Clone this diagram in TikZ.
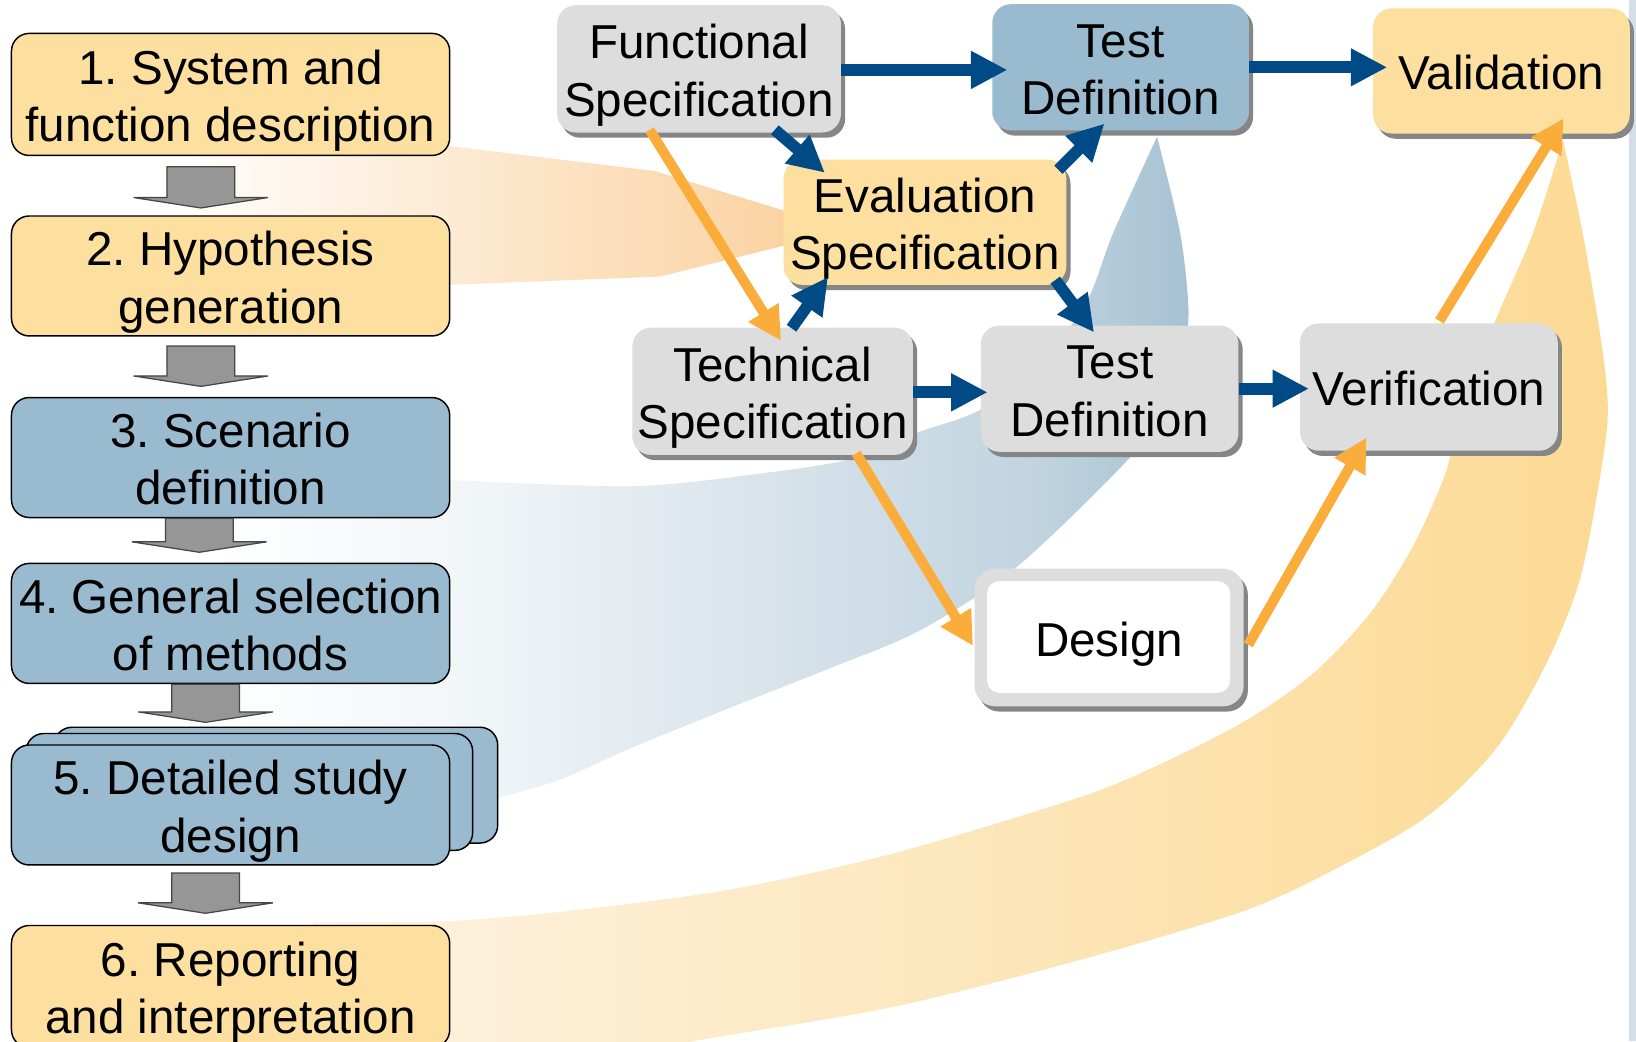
\documentclass[tikz,border=0pt]{standalone}
\usepackage{fontspec}
\setmainfont{Liberation Sans}
\usetikzlibrary{arrows.meta,calc,shadows}
\frenchspacing
\definecolor{boxorange}{RGB}{253,223,160}
\definecolor{boxblue}{RGB}{154,187,207}
\definecolor{boxgray}{RGB}{221,221,221}
\definecolor{shadowgray}{RGB}{134,134,134}
\definecolor{arrblue}{RGB}{0,74,134}
\definecolor{arrorange}{RGB}{251,173,59}
\definecolor{blockgray}{RGB}{150,150,150}
\definecolor{blockedge}{RGB}{70,70,70}
\definecolor{stripcol}{RGB}{212,222,230}
\definecolor{bfA}{RGB}{243,247,249}
\definecolor{bfB}{RGB}{219,229,236}
\definecolor{bfC}{RGB}{193,212,224}
\definecolor{bfD}{RGB}{166,194,211}
\definecolor{rfL}{RGB}{253,243,227}
\definecolor{rfR}{RGB}{252,218,148}
\definecolor{ofR}{RGB}{250,210,160}
\pgfdeclarehorizontalshading{bluefade}{100bp}{color(0bp)=(white); color(25bp)=(white); color(37bp)=(bfA); color(52bp)=(bfB); color(67bp)=(bfC); color(75bp)=(bfD); color(100bp)=(bfD)}
\newcommand{\ts}{\rule{0pt}{22.7pt}}
\newcommand{\bs}{\rule[-4.8pt]{0pt}{0pt}}
\tikzset{
  txt/.style={font=\fontsize{22.8pt}{27.5pt}\selectfont, align=center, inner sep=0pt},
  lbox/.style={txt, draw=black, line width=0.7pt, rounded corners=8.5pt, minimum width=210pt, minimum height=57.5pt},
  lorange/.style={lbox, fill=boxorange},
  lblue/.style={lbox, fill=boxblue},
  rbox/.style={txt, rounded corners=9pt, drop shadow={shadow xshift=2pt, shadow yshift=-2.5pt, fill=shadowgray, opacity=1}},
  rgray/.style={rbox, fill=boxgray},
  rblue/.style={rbox, fill=boxblue},
  rorange/.style={rbox, fill=boxorange},
  desbox/.style={txt, rounded corners=10pt, fill=boxgray, minimum width=129pt, minimum height=66pt,
    drop shadow={shadow xshift=2pt, shadow yshift=-2.5pt, fill=shadowgray, opacity=1},
    path picture={\fill[white, rounded corners=6pt] ([shift={(6pt,-6pt)}]path picture bounding box.north west) rectangle ([shift={(-6.5pt,6.5pt)}]path picture bounding box.south east);}},
  barrow/.style={draw=arrblue, line width=5.6pt, -{Triangle[length=17.5pt,width=17pt]}},
  oarrow/.style={draw=arrorange, line width=4.8pt, -{Triangle[length=16pt,width=16pt]}},
  blockarrow/.style={fill=blockgray, draw=blockedge, line width=0.6pt},
}
% block arrow between two stacked boxes: from, to, left offset (pt), top gap (pt), tip gap (pt)
\newcommand{\garrow}[5]{%
  \draw[blockarrow] let \p1=(#1.south), \p2=(#2.north) in
  ({\x1-#3pt-16.25pt},{\y1-#4pt}) -- ({\x1-#3pt+16.25pt},{\y1-#4pt}) --
  ({\x1-#3pt+16.25pt},{\y2+#5pt+5pt}) -- ({\x1-#3pt+32.25pt},{\y2+#5pt+5pt}) --
  ({\x1-#3pt},{\y2+#5pt}) -- ({\x1-#3pt-32.25pt},{\y2+#5pt+5pt}) --
  ({\x1-#3pt-16.25pt},{\y2+#5pt+5pt}) -- cycle;}
\begin{document}
\begin{tikzpicture}[x=0.5pt,y=-0.5pt]
\useasboundingbox (0,0) rectangle (1568,998);
\clip (0,0) rectangle (1568,998);
\fill[white] (0,0) rectangle (1568,998);
\fill[stripcol] (1561,0) rectangle (1568,998);
% orange band to evaluation specification
\shade[left color=white, right color=ofR] (150,135) -- (431,140) -- (628,164) -- (765,206) -- (765,232) -- (633,265) -- (431,273) -- (150,276) -- cycle;
% blue band
\shade[shading=bluefade] (200,457) -- plot[smooth, tension=0.5] coordinates {(431,460) (607,466) (735,453) (815,440) (875,416) (941,392) (1000,345) (1042,288) (1067,223) (1109,131)}
  -- plot[smooth, tension=0.5] coordinates {(1109,131) (1131,223) (1139,294) (1135,330) (1115,385) (1088,433) (975,543) (882,604) (799,639) (703,677) (607,716) (537,747) (479,764) (431,772)}
  -- (200,780) -- cycle;
% orange ring
\shade[left color=rfL, right color=rfR] (300,884) -- plot[smooth, tension=0.5] coordinates {(431,883) (537,874) (697,853) (856,818) (1035,764) (1115,731) (1195,690) (1259,645) (1313,588) (1354,524) (1383,460) (1398,410) (1428,320) (1469,224) (1498,134)}
  -- plot[smooth, tension=0.5] coordinates {(1498,134) (1517,224) (1535,330) (1541,395) (1533,460) (1514,556) (1482,636) (1435,716) (1371,780) (1291,827) (1195,872) (1035,920) (856,965) (664,998) (431,1040)}
  -- (300,1040) -- cycle;
% left column
\node[lorange, minimum height=58.5pt] (L1) at (221,90.5) {\ts 1. System and\\function description\bs};
\node[lorange] (L2) at (221,264.5) {\ts 2. Hypothesis\\generation\bs};
\node[lblue] (L3) at (221,438.5) {\ts 3. Scenario\\definition\bs};
\node[lblue] (L4) at (221,597.5) {\ts 4. General selection\\of methods\bs};
\node[lblue, minimum width=212.5pt, minimum height=55.5pt] (L5c) at (264.5,752.5) {};
\node[lblue, minimum width=214pt, minimum height=56pt] (L5b) at (239,759) {};
\node[lblue] (L5) at (221,771.5) {\ts 5. Detailed study\\design\bs};
\node[lorange, minimum height=58.5pt] (L6) at (221,945.5) {\ts 6. Reporting\\and interpretation\bs};
\garrow{L1}{L2}{14.25}{5}{3.5}
\garrow{L2}{L3}{14.25}{4.5}{5}
\garrow{L3}{L4}{15}{0}{5}
\garrow{L4}{L5c}{12}{0}{2}
\garrow{L5}{L6}{12}{3.5}{5.5}
% right part
\node[rgray, minimum width=136pt, minimum height=61pt] (FS) at (670,66) {\ts Functional\\Specification\bs};
\node[rblue, minimum width=123pt, minimum height=60.5pt] (TD1) at (1074,64.5) {\ts Test\\Definition\bs};
\node[rorange, minimum width=123pt, minimum height=60pt] (VAL) at (1439,68) {\ts Validation\bs};
\node[rorange, minimum width=135.5pt, minimum height=60pt] (EV) at (886.5,213) {\ts Evaluation\\Specification\bs};
\node[rgray, minimum width=134.5pt, minimum height=61pt] (TS) at (740.5,375) {\ts Technical\\Specification\bs};
\node[rgray, minimum width=123.5pt, minimum height=60.5pt] (TD2) at (1063.5,372.5) {\ts Test\\Definition\bs};
\node[rgray, minimum width=123.5pt, minimum height=61pt] (VER) at (1369.5,371) {\ts Verification\bs};
\node[desbox] (DES) at (1063,611) {\ts Design\bs};
% blue arrows
\draw[barrow] ($(FS.east)+(0,1)$) -- ($(FS.east -| TD1.west)+(15,1)$);
\draw[barrow] (TD1.east) -- ($(TD1.east -| VAL.west)+(14,0)$);
\draw[barrow] ($(TS.east)+(0,1)$) -- ($(TS.east -| TD2.west)+(7,1)$);
\draw[barrow] (TD2.east) -- ($(TD2.east -| VER.west)+(9,0)$);
\draw[barrow] ($(FS.south west)+(209,-3)$) -- ($(EV.north west)+(40,13)$);
\draw[barrow] ($(EV.north east)+(-8,10)$) -- ($(TD1.south west)+(108,-7)$);
\draw[barrow] ($(TS.north west)+(153,1)$) -- ($(EV.south west)+(43,-8)$);
\draw[barrow] ($(EV.south east)+(-11,-5)$) -- ($(TD2.north west)+(109,7)$);
% orange arrows
\draw[oarrow] ($(FS.south west)+(89,-3)$) -- ($(TS.north west)+(143,13)$);
\draw[oarrow] ($(TS.south west)+(215,-2)$) -- ($(DES.west)+(-1,8)$);
\draw[oarrow] ($(DES.east)+(4,7)$) -- ($(VER.south west)+(64,-13)$);
\draw[oarrow] ($(VER.north west)+(134,-2)$) -- ($(VAL.south west)+(183,-15)$);
\end{tikzpicture}
\end{document}
